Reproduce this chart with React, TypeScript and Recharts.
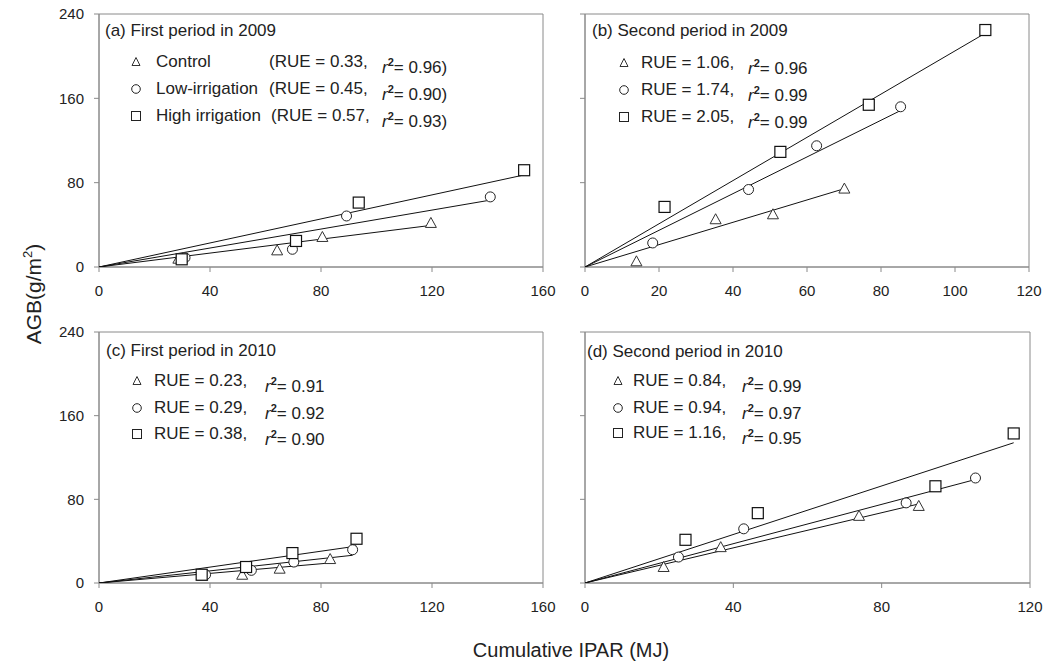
import React from "react";
import { ScatterChart, Scatter, XAxis, YAxis, ReferenceArea } from "recharts";

const FONT = "'Liberation Sans', Arial, Helvetica, sans-serif";
const AXIS_GREY = "#8a8a8a";
const TEXT = "#222";

// x = cumulative IPAR (MJ), y = AGB (g/m2)
// (a) first period 2009
const aControl = [
  { x: 28.6, y: 7.9 },
  { x: 64.2, y: 15.8 },
  { x: 80.5, y: 28.5 },
  { x: 119.6, y: 41.8 },
];
const aLow = [
  { x: 31, y: 8.9 },
  { x: 69.7, y: 16.8 },
  { x: 89.2, y: 48.4 },
  { x: 141, y: 66.5 },
];
const aHigh = [
  { x: 29.8, y: 7.3 },
  { x: 71, y: 24.7 },
  { x: 93.6, y: 61.1 },
  { x: 153.2, y: 91.8 },
];
const aRue = [0.33, 0.45, 0.57];
const aR2 = ["0.96", "0.90", "0.93"];

// (b) second period 2009
const bControl = [
  { x: 13.9, y: 5.4 },
  { x: 35.3, y: 45.3 },
  { x: 50.8, y: 50 },
  { x: 70.1, y: 74.4 },
];
const bLow = [
  { x: 18.3, y: 22.8 },
  { x: 44.2, y: 73.5 },
  { x: 62.6, y: 115 },
  { x: 85.3, y: 152 },
];
const bHigh = [
  { x: 21.5, y: 57 },
  { x: 52.8, y: 109.2 },
  { x: 76.7, y: 153.9 },
  { x: 108.2, y: 224.8 },
];
const bRue = [1.06, 1.74, 2.05];
const bR2 = ["0.96", "0.99", "0.99"];

// (c) first period 2010
const cControl = [
  { x: 37.2, y: 7 },
  { x: 51.6, y: 7.9 },
  { x: 65.1, y: 13.7 },
  { x: 83.3, y: 22.9 },
];
const cLow = [
  { x: 38.4, y: 7.9 },
  { x: 54.9, y: 12.1 },
  { x: 70.2, y: 20 },
  { x: 91.4, y: 31.8 },
];
const cHigh = [
  { x: 37, y: 7.9 },
  { x: 53, y: 15.3 },
  { x: 69.7, y: 28.6 },
  { x: 92.8, y: 42.3 },
];
const cRue = [0.23, 0.29, 0.38];
const cR2 = ["0.91", "0.92", "0.90"];

// (d) second period 2010
const dControl = [
  { x: 21.2, y: 15.3 },
  { x: 36.6, y: 34.3 },
  { x: 73.9, y: 64.2 },
  { x: 90, y: 73.7 },
];
const dLow = [
  { x: 25.2, y: 24.8 },
  { x: 42.8, y: 51.8 },
  { x: 86.6, y: 76.6 },
  { x: 105.3, y: 100.4 },
];
const dHigh = [
  { x: 27.1, y: 41.3 },
  { x: 46.6, y: 66.8 },
  { x: 94.5, y: 92.5 },
  { x: 115.6, y: 143 },
];
const dRue = [0.84, 0.94, 1.16];
const dR2 = ["0.99", "0.97", "0.95"];

const treatments = ["Control", "Low-irrigation", "High irrigation"];
const yTicks = [0, 80, 160, 240];
const xTicks160 = [0, 40, 80, 120, 160];
const xTicks120by20 = [0, 20, 40, 60, 80, 100, 120];
const xTicks120by40 = [0, 40, 80, 120];

// regression through the origin: AGB = RUE * IPAR, drawn up to the last point
const fitLine = (pts: { x: number; y: number }[], rue: number) => {
  const xm = Math.max(...pts.map((p) => p.x));
  return [
    { x: 0, y: 0 },
    { x: xm, y: rue * xm },
  ];
};

const Tri = (p: any) => (
  <path
    d={`M${p.cx},${p.cy - 5.5} L${p.cx + 5.5},${p.cy + 4.5} L${p.cx - 5.5},${p.cy + 4.5} Z`}
    fill="#fff"
    stroke="#333"
    strokeWidth={1}
  />
);
const Circ = (p: any) => <circle cx={p.cx} cy={p.cy} r={5} fill="#fff" stroke="#222" strokeWidth={1} />;
const Sq = (p: any) => (
  <rect x={p.cx - 5.5} y={p.cy - 5.5} width={11} height={11} fill="#fff" stroke="#111" strokeWidth={1.2} />
);
const Nothing = () => <g />;

const shapes = [Tri, Circ, Sq];

const Y_W = 60;
const M_T = 10;
const M_R = 25;
const X_H = 40;

function Panel({
  box,
  xMax,
  xTicks,
  yLabels,
  series,
  rue,
}: {
  box: [number, number, number, number];
  xMax: number;
  xTicks: number[];
  yLabels: boolean;
  series: { x: number; y: number }[][];
  rue: number[];
}) {
  const [x0, y0, x1, y1] = box;
  const w = Y_W + (x1 - x0) + M_R;
  const h = M_T + (y1 - y0) + X_H;
  const tickStyle = { fontSize: 15, fill: TEXT, fontFamily: FONT };
  return (
    <div style={{ position: "absolute", left: x0 - Y_W, top: y0 - M_T }}>
      <ScatterChart width={w} height={h} margin={{ top: M_T, right: M_R, bottom: 0, left: 0 }}>
        <XAxis
          type="number"
          dataKey="x"
          domain={[0, xMax]}
          ticks={xTicks}
          interval={0}
          height={X_H}
          stroke={AXIS_GREY}
          tickSize={5}
          tickMargin={13}
          tick={tickStyle}
          allowDataOverflow
        />
        <YAxis
          type="number"
          dataKey="y"
          domain={[0, 240]}
          ticks={yTicks}
          interval={0}
          width={Y_W}
          stroke={AXIS_GREY}
          tickSize={5}
          tickMargin={10}
          tick={tickStyle}
          tickFormatter={(v) => (yLabels ? String(v) : "")}
          allowDataOverflow
        />
        <ReferenceArea x1={0} x2={xMax} y1={0} y2={240} fill="none" stroke={AXIS_GREY} strokeWidth={1} />
        {series.map((pts, i) => (
          <Scatter
            key={`fit-${i}`}
            data={fitLine(pts, rue[i])}
            line={{ stroke: "#111", strokeWidth: 1 }}
            shape={Nothing}
            isAnimationActive={false}
          />
        ))}
        {series.map((pts, i) => (
          <Scatter key={`pts-${i}`} data={pts} shape={shapes[i]} isAnimationActive={false} />
        ))}
      </ScatterChart>
    </div>
  );
}

const Sym = ({ i }: { i: number }) => (
  <svg width={14} height={14} style={{ display: "block" }}>
    {i === 0 && <path d="M7,2.5 L11,10.5 L3,10.5 Z" fill="#fff" stroke="#333" />}
    {i === 1 && <circle cx={7} cy={7} r={4.3} fill="#fff" stroke="#222" />}
    {i === 2 && <rect x={2.5} y={2.5} width={9} height={9} fill="#fff" stroke="#222" />}
  </svg>
);

const R2 = ({ v, close }: { v: string; close?: boolean }) => (
  <span>
    <i>r</i>
    <sup style={{ fontSize: 11, fontWeight: "bold", verticalAlign: "7px" }}>2</sup>= {v}
    {close ? ")" : ""}
  </span>
);

function Txt({ x, y, children }: { x: number; y: number; children: React.ReactNode }) {
  return (
    <div
      style={{
        position: "absolute",
        left: x,
        top: y - 10,
        height: 20,
        lineHeight: "20px",
        fontSize: 17,
        fontFamily: FONT,
        color: TEXT,
        whiteSpace: "nowrap",
      }}
    >
      {children}
    </div>
  );
}

function SymAt({ x, y, i }: { x: number; y: number; i: number }) {
  return (
    <div style={{ position: "absolute", left: x - 7, top: y - 7 }}>
      <Sym i={i} />
    </div>
  );
}

export default function App() {
  const aRows = [62, 89, 116];
  const bRows = [63, 90, 117];
  const cRows = [381, 408, 434];
  const dRows = [381, 408, 433];
  return (
    <div
      style={{
        position: "absolute",
        left: 0,
        top: 0,
        width: 1046,
        height: 662,
        background: "#fff",
        fontFamily: FONT,
        overflow: "hidden",
      }}
    >
      <Panel box={[99, 14, 543, 267]} xMax={160} xTicks={xTicks160} yLabels series={[aControl, aLow, aHigh]} rue={aRue} />
      <Panel box={[585, 14, 1029, 267]} xMax={120} xTicks={xTicks120by20} yLabels={false} series={[bControl, bLow, bHigh]} rue={bRue} />
      <Panel box={[99, 332, 543, 583]} xMax={160} xTicks={xTicks160} yLabels series={[cControl, cLow, cHigh]} rue={cRue} />
      <Panel box={[585, 332, 1030, 583]} xMax={120} xTicks={xTicks120by40} yLabels={false} series={[dControl, dLow, dHigh]} rue={dRue} />

      {/* (a) */}
      <Txt x={105} y={31}>(a) First period in 2009</Txt>
      {aRows.map((y, i) => (
        <React.Fragment key={`a${i}`}>
          <SymAt x={136} y={y} i={i} />
          <Txt x={156} y={y}>{treatments[i]}</Txt>
          <Txt x={i === 2 ? 271 : 269} y={y}>(RUE = {aRue[i].toFixed(2)},</Txt>
          <Txt x={382} y={y}>
            <R2 v={aR2[i]} close />
          </Txt>
        </React.Fragment>
      ))}

      {/* (b) */}
      <Txt x={592} y={31}>(b) Second period in 2009</Txt>
      {bRows.map((y, i) => (
        <React.Fragment key={`b${i}`}>
          <SymAt x={624} y={y} i={i} />
          <Txt x={641} y={y}>RUE = {bRue[i].toFixed(2)},</Txt>
          <Txt x={748} y={y}>
            <R2 v={bR2[i]} />
          </Txt>
        </React.Fragment>
      ))}

      {/* (c) */}
      <Txt x={106} y={351}>(c) First period in 2010</Txt>
      {cRows.map((y, i) => (
        <React.Fragment key={`c${i}`}>
          <SymAt x={137} y={y} i={i} />
          <Txt x={154} y={y}>RUE = {cRue[i].toFixed(2)},</Txt>
          <Txt x={265} y={y}>
            <R2 v={cR2[i]} />
          </Txt>
        </React.Fragment>
      ))}

      {/* (d) */}
      <Txt x={587} y={352}>(d) Second period in 2010</Txt>
      {dRows.map((y, i) => (
        <React.Fragment key={`d${i}`}>
          <SymAt x={618} y={y} i={i} />
          <Txt x={633} y={y}>RUE = {dRue[i].toFixed(2)},</Txt>
          <Txt x={742} y={y}>
            <R2 v={dR2[i]} />
          </Txt>
        </React.Fragment>
      ))}

      {/* axis titles */}
      <div
        style={{
          position: "absolute",
          left: 28 - 70,
          top: 294 - 12,
          width: 140,
          height: 24,
          lineHeight: "24px",
          textAlign: "center",
          fontSize: 21,
          color: TEXT,
          transform: "rotate(-90deg)",
          whiteSpace: "nowrap",
        }}
      >
        AGB(g/m<sup style={{ fontSize: 13, verticalAlign: "9px" }}>2</sup>)
      </div>
      <div
        style={{
          position: "absolute",
          left: 571 - 150,
          top: 650 - 12,
          width: 300,
          height: 24,
          lineHeight: "24px",
          textAlign: "center",
          fontSize: 20,
          color: TEXT,
          whiteSpace: "nowrap",
        }}
      >
        Cumulative IPAR (MJ)
      </div>
    </div>
  );
}
